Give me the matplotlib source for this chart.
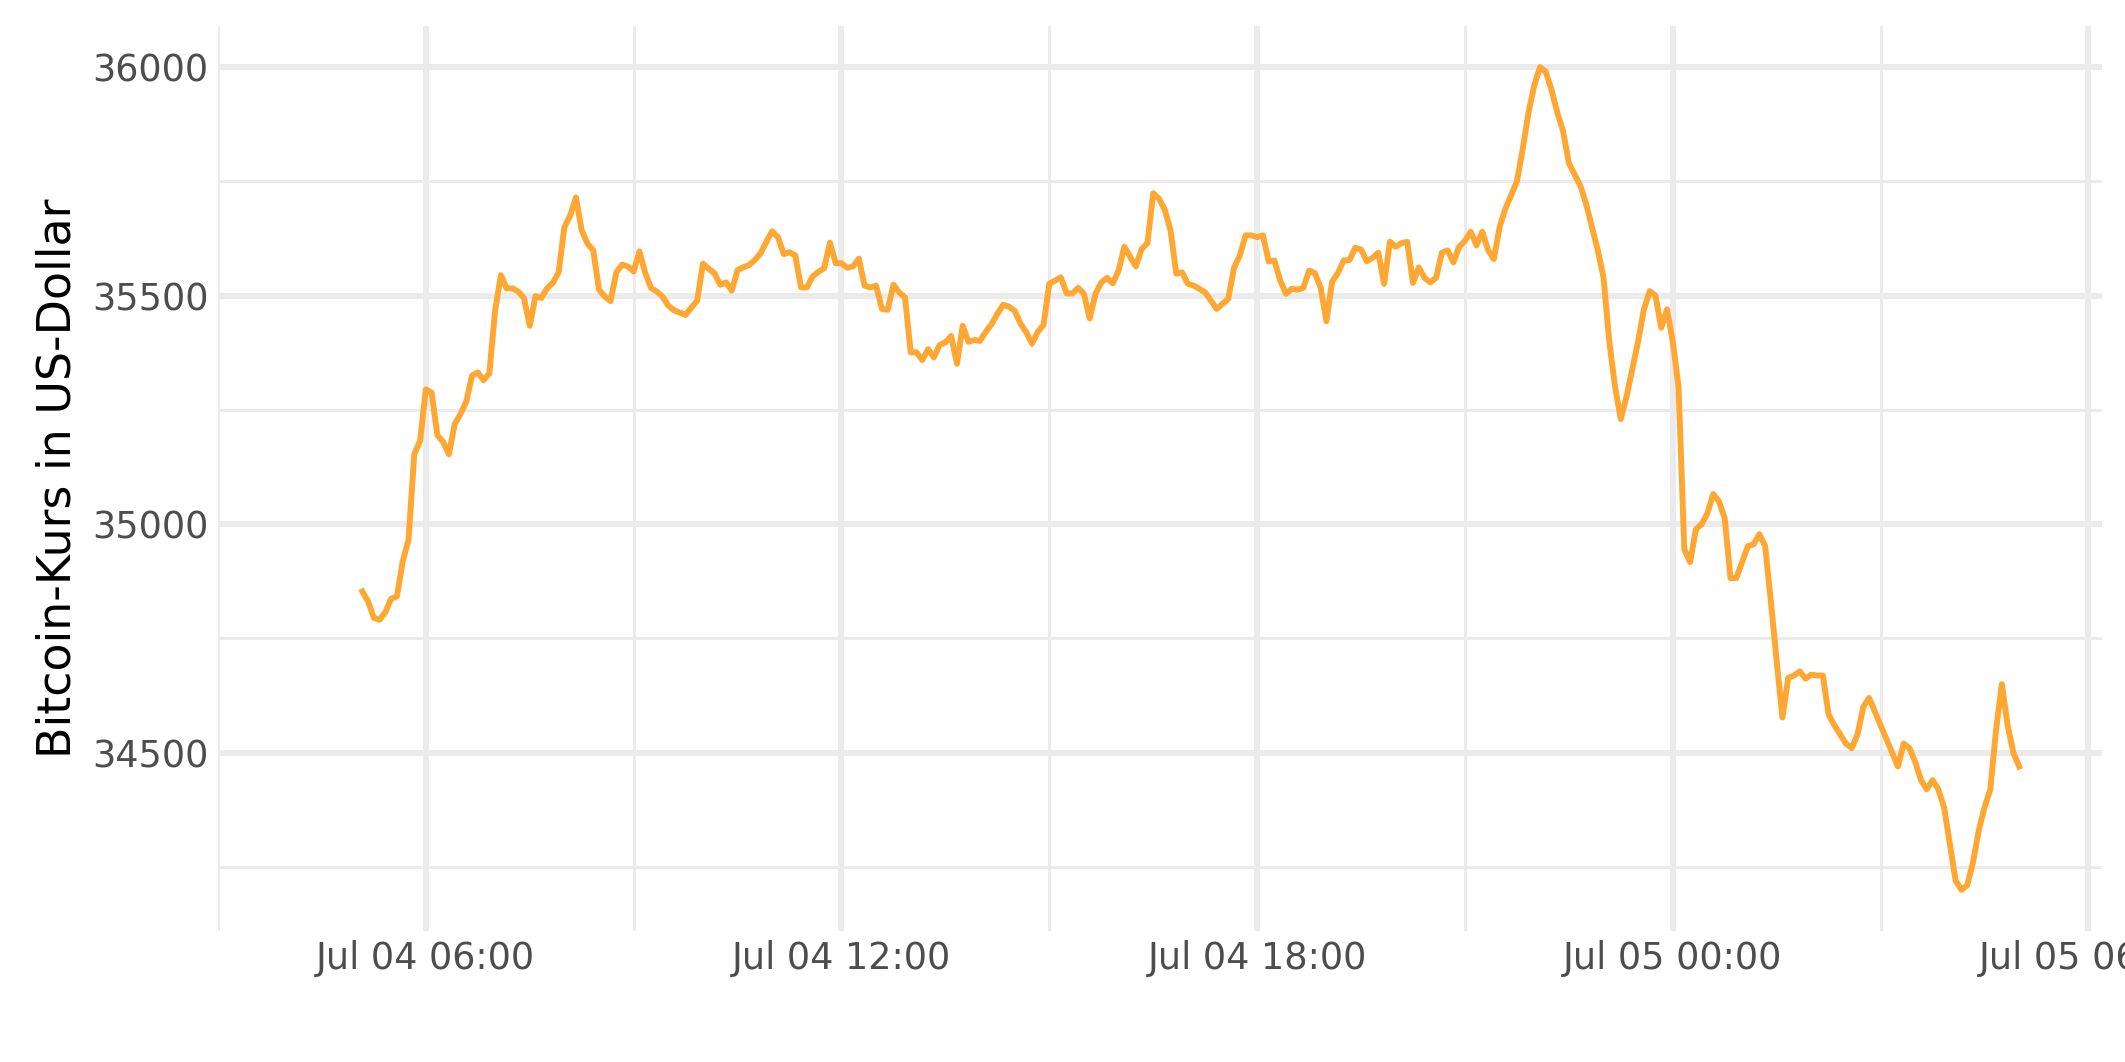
import numpy as np
import pandas as pd
import matplotlib
matplotlib.use("Agg")
import matplotlib.pyplot as plt
import matplotlib.dates as mdates

# Bitcoin-Kurs, 5-Minuten-Werte ab 04.07. 05:05
start = "2021-07-04 05:05"
kurs = [
    34853, 34831, 34795, 34791, 34808, 34837, 34842, 34919, 34966, 35153,
    35182, 35295, 35288, 35195, 35180, 35153, 35219, 35241, 35268, 35325,
    35332, 35315, 35330, 35467, 35545, 35516, 35516, 35509, 35495, 35434,
    35499, 35495, 35516, 35528, 35551, 35650, 35675, 35715, 35643, 35614,
    35599, 35513, 35498, 35488, 35551, 35568, 35564, 35553, 35597, 35550,
    35517, 35509, 35498, 35478, 35468, 35463, 35458, 35474, 35489, 35570,
    35559, 35549, 35524, 35529, 35511, 35556, 35562, 35567, 35578, 35593,
    35618, 35641, 35628, 35591, 35595, 35588, 35518, 35518, 35542, 35552,
    35560, 35616, 35571, 35571, 35561, 35564, 35581, 35522, 35518, 35522,
    35471, 35469, 35524, 35507, 35496, 35376, 35376, 35359, 35383, 35365,
    35392, 35398, 35412, 35351, 35434, 35399, 35403, 35401, 35421, 35438,
    35460, 35480, 35476, 35467, 35439, 35420, 35395, 35421, 35436, 35526,
    35533, 35540, 35505, 35505, 35517, 35504, 35450, 35504, 35529, 35539,
    35527, 35555, 35607, 35585, 35564, 35602, 35615, 35724, 35712, 35688,
    35643, 35548, 35551, 35526, 35522, 35515, 35507, 35489, 35471, 35482,
    35493, 35561, 35588, 35632, 35632, 35628, 35632, 35575, 35577, 35533,
    35504, 35515, 35513, 35517, 35555, 35549, 35518, 35444, 35531, 35550,
    35577, 35578, 35605, 35601, 35575, 35583, 35594, 35526, 35618, 35607,
    35615, 35618, 35528, 35562, 35539, 35529, 35539, 35594, 35599, 35573,
    35607, 35620, 35640, 35610, 35640, 35600, 35580, 35650, 35690, 35720,
    35750, 35820, 35900, 35960, 36000, 35990, 35950, 35900, 35860, 35790,
    35765, 35740, 35700, 35650, 35600, 35540, 35400, 35300, 35230, 35280,
    35340, 35400, 35470, 35510, 35500, 35430, 35470, 35400, 35300, 34945,
    34917, 34989, 35000, 35024, 35066, 35050, 35013, 34882, 34882, 34917,
    34952, 34956, 34978, 34952, 34830, 34700, 34577, 34664, 34669, 34678,
    34662, 34671, 34669, 34669, 34583, 34560, 34540, 34520, 34510, 34540,
    34600, 34620, 34590, 34560, 34530, 34500, 34470, 34520, 34510, 34480,
    34440, 34420, 34440, 34420, 34380, 34300, 34220, 34200, 34210, 34260,
    34330, 34380, 34420, 34550, 34650, 34560, 34500, 34470,
]
zeit = pd.date_range(start, periods=len(kurs), freq="5min")

y_breaks = [34500, 35000, 35500, 36000]
y_minor = [34250, 34750, 35250, 35750]
x_breaks = pd.date_range("2021-07-04 06:00", periods=5, freq="6h")
x_minor = pd.date_range("2021-07-04 03:00", periods=5, freq="6h")

grid_col = "#EBEBEB"
W, H = 2125, 1062

fig = plt.figure(figsize=(W / 300, H / 300), dpi=300)
# Panel in Pixeln (links, rechts, oben, unten)
pl, pr, pt, pb = 218, 2102, 26, 931
ax = fig.add_axes([pl / W, 1 - pb / H, (pr - pl) / W, (pb - pt) / H])

ax.plot(zeit, kurs, color="#FFA733", linewidth=1.42)
ax.margins(x=0.05, y=0.05)

ax.set_yticks(y_breaks)
ax.set_yticks(y_minor, minor=True)
ax.set_xticks(x_breaks)
ax.set_xticks(x_minor, minor=True)
ax.xaxis.set_major_formatter(mdates.DateFormatter("%b %d %H:%M"))

ax.grid(which="major", color=grid_col, linewidth=1.42)
ax.grid(which="minor", color=grid_col, linewidth=0.71)
ax.set_axisbelow(True)
for s in ax.spines.values():
    s.set_visible(False)
ax.tick_params(which="both", length=0)
ax.tick_params(axis="both", labelsize=8.8, labelcolor="#4D4D4D", pad=2.2)
ax.set_ylabel("Bitcoin-Kurs in US-Dollar", fontsize=11, color="black", labelpad=2.75)

fig.savefig("out.png", dpi=300, facecolor="white")
